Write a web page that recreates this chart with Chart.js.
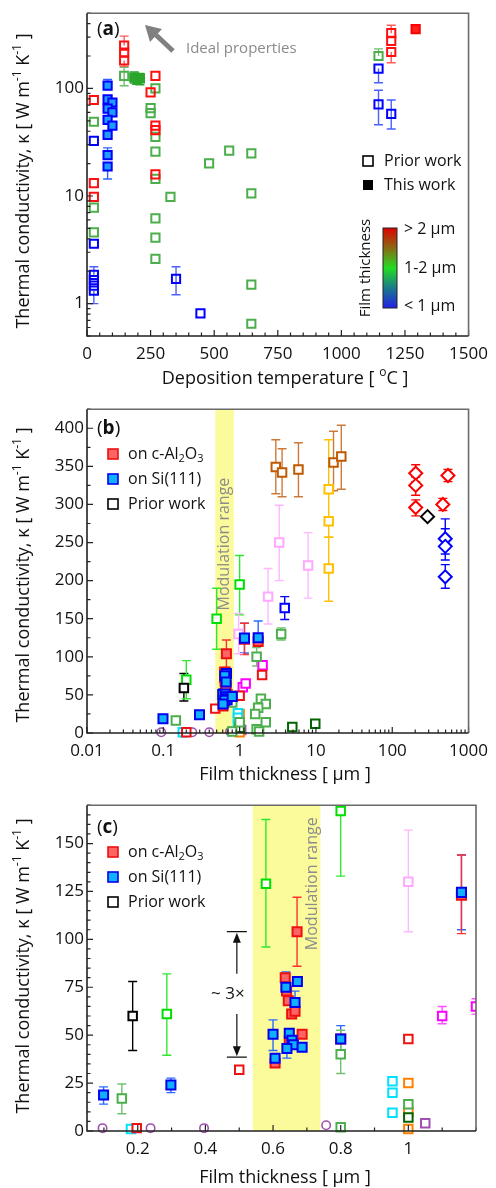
<!DOCTYPE html>
<html>
<head>
<meta charset="utf-8">
<script src="https://cdn.jsdelivr.net/npm/chart.js@4.4.0/dist/chart.umd.min.js"></script>
<style>
  body { margin: 0; background: #fff; }
  canvas { display: block; }
</style>
</head>
<body>
<canvas id="chartA" width="496" height="396"></canvas>
<canvas id="chartB" width="496" height="396"></canvas>
<canvas id="chartC" width="496" height="396"></canvas>
<script>
// Dados: [x, y, erroInferior, erroSuperior]

// (a) temperatura de deposição x condutividade
const aXTicks = [0, 250, 500, 750, 1000, 1250, 1500];
const aYTicks = [1, 10, 100];
const aRedOpen = [[27,78],[27,13.2],[27,9.8],[146,250,null,306],[146,215],[146,182,160],[250,92],[269,131],[269,45],[269,41],[269,15.9],[1196,326,null,386],[1196,276],[1196,218,173]];
const aRedFilled = [[1292,355]];
const aGreenOpen = [[27,49],[27,7.8],[27,4.6],[146,131,106,157],[269,100],[250,65.5],[250,59],[269,35.5],[269,25.9],[269,14.4],[269,6.2],[269,4.1],[269,2.6],[328,9.8],[480,20.1],[559,26.4],[646,24.9],[646,10.6],[646,1.5],[646,0.65],[1146,200,null,233]];
const aGreenFilled = [[186,126,112,142],[198,120],[208,124,108,138]];
const aBlueOpen = [[27,32.6],[27,3.6],[27,1.85,null,2.2],[27,1.65],[27,1.47],[27,1.32,1.0],[350,1.7,1.21,2.2],[446,0.81],[1146,153,113],[1146,71,46,96],[1196,58,42,78]];
const aBlueFilled = [[81,106,null,121],[81,79],[100,74],[81,65],[100,60],[81,51],[100,45],[81,37],[81,24,null,28],[81,18.8,14.4]];

// (b) e (c) espessura do filme x condutividade
const bXTicks = [0.01, 0.1, 1, 10, 100, 1000];
const bYTicks = [0, 50, 100, 150, 200, 250, 300, 350, 400];
const cXTicks = [0.2, 0.4, 0.6, 0.8, 1];
const cYTicks = [0, 25, 50, 75, 100, 125, 150];
const bandB = [0.48, 0.84];
const bandC = [0.54, 0.74];

// este trabalho (mesmos pontos nos dois painéis)
const twRed = [[0.636,80],[0.64,73],[0.645,68],[0.655,61],[0.665,62.5],[0.686,50.5],[0.606,35.5],[0.648,47],[0.8,48],[0.671,104,86,122],[1.157,123,103,144]];
const twBlue = [[0.099,18.8,14,23],[0.298,24,20,27.6],[0.672,78],[0.638,75,null,83],[0.665,67,null,73],[0.6,50.5,42,58],[0.648,51],[0.656,47.4],[0.66,45],[0.686,43.7],[0.641,43,38],[0.606,38],[0.8,48,42,55],[1.157,124.5,105,144]];
const twRedB = [[1.75,120]];
const twBlueB = [[1.75,125,null,147]];

// trabalhos anteriores, painel (b)
const bLime = [[0.2,70,45,95],[0.5,150,110,190],[1.0,195,155,233]];
const bGreen = [[0.146,16.5],[0.8,40],[0.8,2],[1.0,14],[1.67,100,88,112],[3.5,130,122,138],[1.9,45],[2.2,38],[1.75,33],[1.6,25],[2.2,14],[1.67,5],[1.8,2]];
const bDarkGreen = [[1.0,7],[4.9,8],[9.8,12]];
const bBlack = [[0.186,59,42,78]];
const bBlackDiamond = [[290,284]];
const bRed = [[0.2,1],[0.48,32],[1.0,49],[1.97,76]];
const bRedDiamond = [[203,341,330,352],[203,325,312,336],[203,296,285,306],[537,338,330,346],[460,300,292,308]];
const bBlueDiamond = [[495,255,235,281],[495,245,227,268],[495,205,190,221]];
const bBlueOpen = [[3.9,164,149,179]];
const bCyan = [[0.18,1],[0.95,26],[0.95,20],[0.95,9.5]];
const bOrange = [[1.0,25],[1.0,10],[1.0,1]];
const bPurple = [[0.094,1],[0.24,1],[0.4,1],[0.75,2]];
const bPurpleSq = [[1.05,4]];
const bPink = [[0.97,130,104,157],[2.36,179,143,216],[3.3,250,200,299],[7.9,220,177,263]];
const bMagenta = [[1.1,60],[1.2,65],[2.0,89]];
const bBrown = [[2.98,349,314,385],[3.6,342,310,373],[5.9,346,310,381],[17,355,318,396],[21.5,363,320,404]];
const bGold = [[14.7,320,257,385],[14.7,278],[14.7,216,173,257]];

// trabalhos anteriores, painel (c)
const cLime = [[0.286,61,39.5,82],[0.579,129,96,162.5],[0.8,167,133,200]];
const cGreen = [[0.153,17,9,24.5],[0.8,40,30,52.6],[0.8,2],[1.0,14]];
const cDarkGreen = [[1.0,7]];
const cBlack = [[0.185,60,42,78]];
const cRed = [[0.197,1.5],[0.5,32],[1.0,48]];
const cCyan = [[0.18,1],[0.953,26],[0.953,20],[0.953,9.5]];
const cOrange = [[1.0,25],[1.0,10],[1.0,1]];
const cPurple = [[0.096,1.5],[0.238,1.5],[0.396,1.5],[0.757,3]];
const cPurpleSq = [[1.05,4]];
const cPink = [[1.0,130,104,157]];
const cMagenta = [[1.1,60,56,65],[1.2,65,61,69]];

const FONT = '"Open Sans", "Noto Sans", sans-serif';
const TEXT = '#111';
const RED_FILL = '#ff6464', RED_EDGE = '#ee1010';
const BLUE_FILL = '#10b0ff', BLUE_EDGE = '#0000ee';
const Y_TITLE = [['Thermal conductivity, κ [ W m', 0], ['-1', -1], [' K', 0], ['-1', -1], [' ]', 0]];

// Texto com sub/sobrescrito: modo 0 normal, 1 sub, -1 sobrescrito, 'b' negrito
function drawRich(ctx, parts, x, y, size, color, align) {
    const fontFor = m => (m === 'b' ? 'bold ' : '') + (m === 1 || m === -1 ? Math.round(size * 0.66) : size) + 'px ' + FONT;
    let w = 0;
    parts.forEach(([t, m]) => { ctx.font = fontFor(m); w += ctx.measureText(t).width; });
    let cx = align === 'center' ? x - w / 2 : x;
    ctx.fillStyle = color;
    ctx.textAlign = 'left';
    ctx.textBaseline = 'middle';
    parts.forEach(([t, m]) => {
        ctx.font = fontFor(m);
        const dy = m === 1 ? size * 0.3 : (m === -1 ? -size * 0.36 : 0);
        ctx.fillText(t, cx, y + dy);
        cx += ctx.measureText(t).width;
    });
}

function series(list, color, opt = {}) {
    return {
        data: list.map(p => ({ x: p[0], y: p[1], lo: p[2], hi: p[3] })),
        showLine: false,
        pointStyle: opt.shape || 'rect',
        pointRadius: opt.r || 6,
        pointBorderWidth: opt.bw || 2,
        pointBorderColor: color,
        pointBackgroundColor: opt.fill || 'rgba(255,255,255,0)',
        errColor: opt.err || color,
        clip: { left: 12, top: 12, right: 0, bottom: 12 }
    };
}

const near = (a, b) => Math.abs(a - b) < 1e-9 * Math.max(1, Math.abs(a));
function logMinor(lo, hi) {
    const out = [];
    for (let d = Math.floor(Math.log10(lo)); d <= Math.ceil(Math.log10(hi)); d++)
        for (let m = 1; m < 10; m++) { const v = m * Math.pow(10, d); if (v >= lo * 0.999 && v <= hi * 1.001) out.push(v); }
    return out;
}
function linMinor(lo, hi, step) {
    const out = [];
    for (let v = lo; v <= hi + 1e-9; v += step) out.push(+v.toFixed(6));
    return out;
}

// Plugin comum: faixa, barras de erro, moldura, ticks internos, títulos
function makeDecor(o) {
    return {
        id: 'decor',
        beforeDatasetsDraw(chart) {
            const { ctx, chartArea: a, scales: { x, y } } = chart;
            ctx.save();
            if (o.band) {
                const x0 = x.getPixelForValue(o.band[0]), x1 = x.getPixelForValue(o.band[1]);
                ctx.fillStyle = '#fbfb9c';
                ctx.fillRect(x0, a.top, x1 - x0, a.bottom - a.top);
                ctx.save();
                ctx.translate(x.getPixelForValue(o.bandLabel[0]), y.getPixelForValue(o.bandLabel[1]));
                ctx.rotate(-Math.PI / 2);
                ctx.font = '16px ' + FONT;
                ctx.fillStyle = '#8c8c8c';
                ctx.textAlign = 'center';
                ctx.textBaseline = 'middle';
                ctx.fillText('Modulation range', 0, 0);
                ctx.restore();
            }
            // barras de erro
            ctx.beginPath();
            ctx.rect(a.left, a.top, a.right - a.left, a.bottom - a.top);
            ctx.clip();
            ctx.lineWidth = 1.4;
            chart.data.datasets.forEach(ds => {
                ctx.strokeStyle = ds.errColor;
                ds.data.forEach(p => {
                    if (p.lo == null && p.hi == null) return;
                    const px = x.getPixelForValue(p.x), py = y.getPixelForValue(p.y);
                    ctx.beginPath();
                    [p.lo, p.hi].forEach(v => {
                        if (v == null) return;
                        const vy = y.getPixelForValue(v);
                        ctx.moveTo(px, py); ctx.lineTo(px, vy);
                        ctx.moveTo(px - 4.5, vy); ctx.lineTo(px + 4.5, vy);
                    });
                    ctx.stroke();
                });
            });
            ctx.restore();
        },
        afterDraw(chart) {
            const { ctx, chartArea: a, scales: { x, y } } = chart;
            ctx.save();
            // ticks internos
            ctx.strokeStyle = '#222';
            ctx.lineWidth = 1.2;
            ctx.beginPath();
            o.xMinor.forEach(v => {
                if (v < x.min || v > x.max) return;
                const p = x.getPixelForValue(v);
                const len = o.xTicks.some(t => near(t, v)) ? 6 : 3.5;
                ctx.moveTo(p, a.bottom); ctx.lineTo(p, a.bottom - len);
            });
            o.yMinor.forEach(v => {
                if (v < y.min || v > y.max) return;
                const p = y.getPixelForValue(v);
                const len = o.yTicks.some(t => near(t, v)) ? 6 : 3.5;
                ctx.moveTo(a.left, p); ctx.lineTo(a.left + len, p);
            });
            ctx.stroke();
            // moldura
            ctx.lineWidth = 1.6;
            ctx.strokeStyle = '#6a6a6a';
            ctx.beginPath();
            ctx.moveTo(a.left, a.top); ctx.lineTo(a.right, a.top); ctx.lineTo(a.right, a.bottom);
            ctx.stroke();
            ctx.strokeStyle = '#222';
            ctx.beginPath();
            ctx.moveTo(a.left, a.top); ctx.lineTo(a.left, a.bottom); ctx.lineTo(a.right, a.bottom);
            ctx.stroke();
            // rótulo do painel
            drawRich(ctx, [['(', 0], [o.tag, 'b'], [')', 0]], a.left + 10, a.top + o.tagDy, 19, TEXT);
            // títulos dos eixos
            drawRich(ctx, o.xTitle, 285, o.xTitleY, 18, TEXT, 'center');
            ctx.translate(24, o.yTitleY);
            ctx.rotate(-Math.PI / 2);
            drawRich(ctx, Y_TITLE, 0, 0, 18, TEXT, 'center');
            ctx.restore();
            if (o.extra) o.extra(chart);
        }
    };
}

function buildChart(id, o) {
    const tickFont = { family: FONT, size: 17 };
    return new Chart(document.getElementById(id), {
        type: 'scatter',
        data: { datasets: o.datasets },
        options: {
            responsive: false,
            animation: false,
            devicePixelRatio: 1,
            events: [],
            layout: { padding: { top: o.top, right: 20, left: 0, bottom: 0 } },
            plugins: { legend: { display: false }, tooltip: { enabled: false } },
            scales: {
                x: {
                    type: o.xType, min: o.xMin, max: o.xMax, bounds: 'data',
                    grid: { display: false, drawTicks: false },
                    border: { display: false },
                    ticks: { font: tickFont, color: TEXT, padding: 8, maxRotation: 0, autoSkip: false, callback: v => String(v) },
                    afterBuildTicks: s => { s.ticks = o.xTicks.map(v => ({ value: v })); },
                    afterFit: s => { s.height = 396 - o.bottom; }
                },
                y: {
                    type: o.yType, min: o.yMin, max: o.yMax, bounds: 'data',
                    grid: { display: false, drawTicks: false },
                    border: { display: false },
                    ticks: { font: tickFont, color: TEXT, padding: 3, autoSkip: false, callback: v => String(v) },
                    afterBuildTicks: s => { s.ticks = o.yTicks.map(v => ({ value: v })); },
                    afterFit: s => { s.width = 87; }
                }
            }
        },
        plugins: [makeDecor(o)]
    });
}

// Legenda dos painéis (b) e (c)
function drawSubstrateLegend(ctx, x, y0) {
    const rows = [
        [RED_FILL, RED_EDGE, [['on c-Al', 0], ['2', 1], ['O', 0], ['3', 1]]],
        [BLUE_FILL, BLUE_EDGE, [['on Si(111)', 0]]],
        ['#fff', '#000', [['Prior work', 0]]]
    ];
    rows.forEach((r, i) => {
        const y = y0 + i * 25;
        ctx.fillStyle = r[0];
        ctx.strokeStyle = r[1];
        ctx.lineWidth = 1.6;
        ctx.fillRect(x - 5, y - 5, 10, 10);
        ctx.strokeRect(x - 5, y - 5, 10, 10);
        drawRich(ctx, r[2], x + 15, y, 16, TEXT);
    });
}

// ---------- (a) ----------
buildChart('chartA', {
    tag: 'a', tagDy: 16, top: 10, bottom: 336,
    xType: 'linear', xMin: 0, xMax: 1500, xTicks: aXTicks, xMinor: linMinor(0, 1500, 50),
    yType: 'logarithmic', yMin: 0.5, yMax: 500, yTicks: aYTicks, yMinor: logMinor(0.5, 500),
    xTitle: [['Deposition temperature [ ', 0], ['o', -1], ['C ]', 0]], xTitleY: 379, yTitleY: 181,
    datasets: [
        series(aBlueFilled, '#0000ff', { fill: '#1e9cff', r: 5.8, err: '#3060ff' }),
        series(aGreenFilled, '#2aa62a', { fill: '#2aa62a', r: 5.8 }),
        series(aRedFilled, '#ff0000', { fill: '#ff2020', r: 5.8 }),
        series(aRedOpen, '#ff1010', { r: 5.8, err: '#ff5a5a' }),
        series(aGreenOpen, '#4cae4c', { r: 5.8, err: '#70c070' }),
        series(aBlueOpen, '#0000ff', { r: 5.8, err: '#4a60ff' })
    ],
    extra(chart) {
        const ctx = chart.ctx;
        ctx.save();
        // seta "Ideal properties"
        ctx.strokeStyle = '#808080';
        ctx.fillStyle = '#808080';
        ctx.lineWidth = 5;
        ctx.beginPath(); ctx.moveTo(173, 51); ctx.lineTo(156, 35); ctx.stroke();
        ctx.beginPath(); ctx.moveTo(145, 25); ctx.lineTo(162, 29); ctx.lineTo(150, 42); ctx.closePath(); ctx.fill();
        ctx.font = '15px ' + FONT;
        ctx.textAlign = 'left'; ctx.textBaseline = 'middle';
        ctx.fillStyle = '#8a8a8a';
        ctx.fillText('Ideal properties', 186, 49);
        // legenda
        ctx.lineWidth = 1.6;
        ctx.strokeStyle = '#000';
        ctx.strokeRect(363, 156, 10, 10);
        ctx.fillStyle = '#000';
        ctx.fillRect(363, 180, 10, 10);
        drawRich(ctx, [['Prior work', 0]], 384, 161, 16, TEXT);
        drawRich(ctx, [['This work', 0]], 384, 185, 16, TEXT);
        // barra de cores da espessura
        const g = ctx.createLinearGradient(0, 228, 0, 308);
        g.addColorStop(0, '#e00000');
        g.addColorStop(0.25, '#8a6a14');
        g.addColorStop(0.5, '#22dd22');
        g.addColorStop(0.75, '#1a7a8a');
        g.addColorStop(1, '#2020e8');
        ctx.fillStyle = g;
        ctx.fillRect(383, 228, 14, 80);
        ctx.lineWidth = 1;
        ctx.strokeStyle = '#222';
        ctx.strokeRect(383, 228, 14, 80);
        drawRich(ctx, [['> 2 µm', 0]], 404, 229, 16, TEXT);
        drawRich(ctx, [['1-2 µm', 0]], 404, 268, 16, TEXT);
        drawRich(ctx, [['< 1 µm', 0]], 404, 306, 16, TEXT);
        ctx.translate(366, 268);
        ctx.rotate(-Math.PI / 2);
        drawRich(ctx, [['Film thickness', 0]], 0, 0, 15, TEXT, 'center');
        ctx.restore();
    }
});

// ---------- (b) ----------
buildChart('chartB', {
    tag: 'b', tagDy: 19, top: 10, bottom: 337,
    xType: 'logarithmic', xMin: 0.01, xMax: 1000, xTicks: bXTicks, xMinor: logMinor(0.01, 1000),
    yType: 'linear', yMin: 0, yMax: 425, yTicks: bYTicks, yMinor: linMinor(0, 425, 25),
    xTitle: [['Film thickness [ µm ]', 0]], xTitleY: 379, yTitleY: 179,
    band: bandB, bandLabel: [0.64, 248],
    datasets: [
        series(twBlue.concat(twBlueB), BLUE_EDGE, { fill: BLUE_FILL, r: 6.4, err: '#2a6aff' }),
        series(twRed.concat(twRedB), RED_EDGE, { fill: RED_FILL, r: 6.4, err: '#ff3030' }),
        series(bBlack, '#000', { fill: '#fff' }),
        series(bBlackDiamond, '#000', { fill: '#fff', shape: 'rectRot', r: 6.5 }),
        series(bRedDiamond, '#ff0000', { fill: '#fff', shape: 'rectRot', r: 6.5 }),
        series(bBlueDiamond, '#0000ff', { fill: '#fff', shape: 'rectRot', r: 6.5 }),
        series(bBlueOpen, '#0000ff', { fill: '#fff' }),
        series(bLime, '#00e000', { fill: '#fff', err: '#30e830' }),
        series(bGreen, '#4cae4c', { fill: '#fff', err: '#70c070' }),
        series(bDarkGreen, '#006400', { fill: '#fff' }),
        series(bRed, '#ee1111', { fill: '#fff' }),
        series(bCyan, '#00e0ff', { fill: '#fff' }),
        series(bOrange, '#ff8000', { fill: '#fff' }),
        series(bPurple, '#a050b0', { fill: '#fff', shape: 'circle', r: 4.2, bw: 1.6 }),
        series(bPurpleSq, '#a050b0', { fill: '#fff' }),
        series(bPink, '#ffa8ff', { fill: '#fff', err: '#ffb8ff' }),
        series(bMagenta, '#ff00ff', { fill: '#fff' }),
        series(bBrown, '#c05a00', { fill: '#fff', err: '#cc7a3a' }),
        series(bGold, '#ffc000', { fill: '#fff' })
    ],
    extra(chart) {
        drawSubstrateLegend(chart.ctx, 113, 58);
    }
});

// ---------- (c) ----------
buildChart('chartC', {
    tag: 'c', tagDy: 22, top: 11, bottom: 339,
    xType: 'linear', xMin: 0.05, xMax: 1.2, xTicks: cXTicks, xMinor: linMinor(0.1, 1.2, 0.1),
    yType: 'linear', yMin: 0, yMax: 170, yTicks: cYTicks, yMinor: linMinor(0, 170, 5),
    xTitle: [['Film thickness [ µm ]', 0]], xTitleY: 386, yTitleY: 174,
    band: bandC, bandLabel: [0.716, 129],
    datasets: [
        series(twBlue, BLUE_EDGE, { fill: BLUE_FILL, r: 6.4, err: '#2a6aff' }),
        series(twRed, RED_EDGE, { fill: RED_FILL, r: 6.4, err: '#ff3030' }),
        series(cBlack, '#000', { fill: '#fff' }),
        series(cLime, '#00e000', { fill: '#fff', err: '#30e830' }),
        series(cGreen, '#4cae4c', { fill: '#fff', err: '#70c070' }),
        series(cDarkGreen, '#006400', { fill: '#fff' }),
        series(cRed, '#ee1111', { fill: '#fff' }),
        series(cCyan, '#00e0ff', { fill: '#fff' }),
        series(cOrange, '#ff8000', { fill: '#fff' }),
        series(cPurple, '#a050b0', { fill: '#fff', shape: 'circle', r: 4.2, bw: 1.6 }),
        series(cPurpleSq, '#a050b0', { fill: '#fff' }),
        series(cPink, '#ffa8ff', { fill: '#fff', err: '#ffb8ff' }),
        series(cMagenta, '#ff00ff', { fill: '#fff', err: '#ff50ff' })
    ],
    extra(chart) {
        const { ctx, scales: { x, y } } = chart;
        drawSubstrateLegend(ctx, 113, 60);
        // anotação "~ 3×"
        const px = x.getPixelForValue(0.493);
        const yTop = y.getPixelForValue(104), yBot = y.getPixelForValue(38.5);
        const yA = y.getPixelForValue(82), yB = y.getPixelForValue(61);
        ctx.save();
        ctx.strokeStyle = '#111';
        ctx.fillStyle = '#111';
        ctx.lineWidth = 1.2;
        ctx.beginPath();
        ctx.moveTo(px - 10, yTop); ctx.lineTo(px + 10, yTop);
        ctx.moveTo(px - 10, yBot); ctx.lineTo(px + 10, yBot);
        ctx.moveTo(px, yA); ctx.lineTo(px, yTop + 8);
        ctx.moveTo(px, yB); ctx.lineTo(px, yBot - 8);
        ctx.stroke();
        ctx.beginPath();
        ctx.moveTo(px, yTop + 1); ctx.lineTo(px - 4, yTop + 11); ctx.lineTo(px + 4, yTop + 11); ctx.closePath();
        ctx.moveTo(px, yBot - 1); ctx.lineTo(px - 4, yBot - 11); ctx.lineTo(px + 4, yBot - 11); ctx.closePath();
        ctx.fill();
        drawRich(ctx, [['~ 3×', 0]], px - 9, y.getPixelForValue(71.5), 17, TEXT, 'center');
        ctx.restore();
    }
});
</script>
</body>
</html>
